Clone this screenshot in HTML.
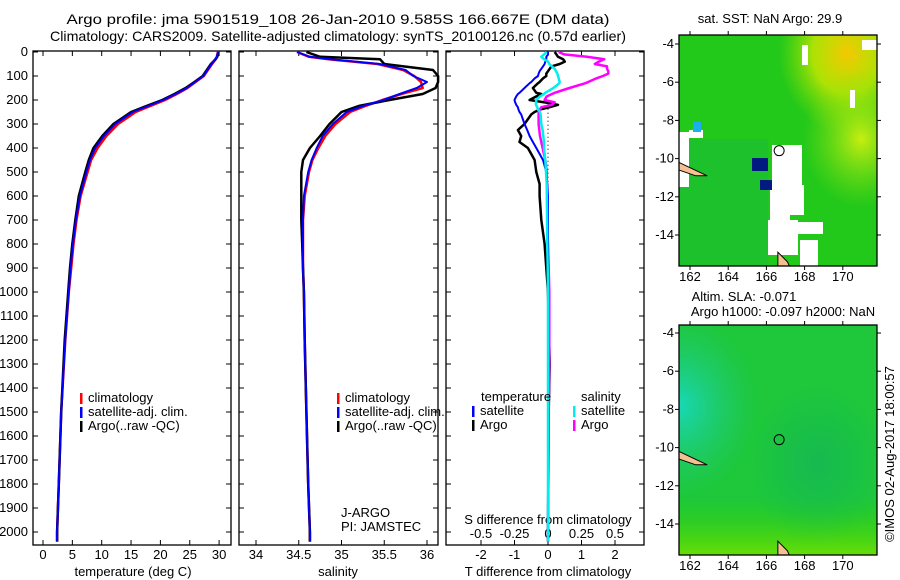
<!DOCTYPE html>
<html><head><meta charset="utf-8"><style>
html,body{margin:0;padding:0;background:#fff}
svg{display:block}
text{font-family:"Liberation Sans",sans-serif;font-size:13px;fill:#000}
</style></head><body>
<svg id="c" width="900" height="580" viewBox="0 0 900 580" xmlns="http://www.w3.org/2000/svg">
<defs>
<radialGradient id="g1" cx="0.85" cy="0.08" r="0.35"><stop offset="0" stop-color="#f4c800"/><stop offset="0.5" stop-color="#cfe800" stop-opacity="0.8"/><stop offset="1" stop-color="#8de000" stop-opacity="0"/></radialGradient>
<radialGradient id="g2" cx="0.92" cy="0.45" r="0.3"><stop offset="0" stop-color="#c8ee10"/><stop offset="1" stop-color="#80e010" stop-opacity="0"/></radialGradient>
<radialGradient id="g3" cx="0.0" cy="0.35" r="0.4"><stop offset="0" stop-color="#18d8b8"/><stop offset="1" stop-color="#20c880" stop-opacity="0"/></radialGradient>
<linearGradient id="g4" x1="0" y1="0" x2="0" y2="1"><stop offset="0.75" stop-color="#30d000" stop-opacity="0"/><stop offset="1" stop-color="#70e000" stop-opacity="0.9"/></linearGradient>
<radialGradient id="g5" cx="0.7" cy="0.6" r="0.35"><stop offset="0" stop-color="#10b060" stop-opacity="0.6"/><stop offset="1" stop-color="#10b060" stop-opacity="0"/></radialGradient>
</defs>
<g id="root"></g>
</svg>
<script>
// ---- data ----
const depths = [0,20,30,50,75,100,125,150,175,200,225,250,300,350,400,450,500,600,700,800,900,1000,1200,1500,1800,2000,2040];
const tempArgo = [29.9,29.7,29.4,28.6,27.9,27.2,25.8,24.3,22.4,20.3,17.6,15.0,12.0,10.1,8.6,7.8,7.2,6.1,5.5,5.0,4.6,4.3,3.7,3.1,2.7,2.4,2.4];
const tempClim = [29.8,29.6,29.4,28.8,28.1,27.4,26.0,24.6,22.8,20.8,18.3,15.8,12.8,10.8,9.3,8.2,7.6,6.4,5.7,5.2,4.8,4.4,3.8,3.1,2.7,2.4,2.4];
const tempSat  = [29.8,29.6,29.3,28.7,28.0,27.3,25.9,24.5,22.6,20.5,17.9,15.3,12.3,10.4,8.9,8.0,7.4,6.3,5.6,5.1,4.7,4.4,3.8,3.1,2.7,2.4,2.4];
const salArgo = [34.59,34.75,35.45,35.5,36.07,36.13,36.13,36.10,35.95,35.56,35.20,35.00,34.86,34.75,34.63,34.55,34.53,34.53,34.53,34.54,34.55,34.56,34.57,34.59,34.61,34.63,34.63];
const salClim = [34.48,34.62,34.85,35.42,35.72,35.85,35.93,35.95,35.70,35.48,35.28,35.10,34.93,34.81,34.73,34.66,34.62,34.57,34.55,34.55,34.55,34.56,34.57,34.59,34.61,34.63,34.63];
const salSat  = [34.48,34.63,34.87,35.45,35.75,35.84,36.00,35.88,35.68,35.49,35.25,35.06,34.90,34.78,34.71,34.65,34.61,34.56,34.55,34.55,34.55,34.56,34.57,34.59,34.61,34.63,34.63];
const diffDepths = [0,10,20,30,40,50,60,70,80,90,100,110,125,130,150,170,175,185,200,210,220,230,240,250,260,300,325,350,375,400,450,500,550,600,700,800,900,1000,1300,1500,2000,2040];
const tDiffArgo = [0.2,0.25,0.3,0.45,0.5,0.35,0.1,0.05,0.0,-0.05,-0.05,-0.15,-0.25,-0.3,-0.45,-0.35,-0.2,-0.35,-0.55,-0.1,0.3,0.05,-0.25,-0.4,-0.5,-0.7,-0.9,-0.8,-0.85,-0.6,-0.4,-0.35,-0.25,-0.25,-0.2,-0.1,-0.05,0.0,0.05,0.02,0.0,0.0];
const tDiffSat  = [0.0,0.0,-0.05,-0.05,-0.08,-0.1,-0.15,-0.2,-0.25,-0.28,-0.3,-0.4,-0.5,-0.55,-0.7,-0.85,-0.9,-0.95,-1.0,-0.98,-0.95,-0.9,-0.88,-0.85,-0.8,-0.7,-0.62,-0.55,-0.45,-0.35,-0.15,-0.05,-0.02,0.0,0.0,0.0,0.0,0.0,0.0,0.0,0.0,0.0];
const sDiffArgo = [0.08,0.12,0.29,0.42,0.38,0.35,0.44,0.44,0.45,0.45,0.41,0.36,0.30,0.28,0.16,0.05,0.03,-0.01,-0.025,0.05,0.03,-0.05,-0.06,-0.07,-0.07,-0.07,-0.065,-0.06,-0.05,-0.04,-0.02,-0.01,-0.008,-0.007,-0.005,0.0,0.005,0.01,0.01,0.005,0.0,0.0];
const sDiffSat  = [-0.01,-0.03,-0.05,-0.03,0.0,0.01,0.03,0.05,0.06,0.07,0.075,0.08,0.087,0.085,0.04,-0.02,-0.03,-0.06,-0.087,-0.09,-0.09,-0.08,-0.075,-0.06,-0.055,-0.05,-0.04,-0.035,-0.03,-0.03,-0.02,-0.015,-0.01,-0.008,-0.007,-0.005,-0.002,0.0,0.0,0.0,0.0,0.0];
const depthTicks = [0,100,200,300,400,500,600,700,800,900,1000,1100,1200,1300,1400,1500,1600,1700,1800,1900,2000];
const tempTicks = [0,5,10,15,20,25,30];
const salTicks = [34,34.5,35,35.5,36];
const tDiffTicks = [-2,-1,0,1,2];
const sDiffTicks = [-0.5,-0.25,0,0.25,0.5];
const sDiffTickLabels = ["-0.5","-0.25","0","0.25","0.5"];
const lonTicks = [162,164,166,168,170];
const latTicks = [-4,-6,-8,-10,-12,-14];

// ---- helpers ----
const NS="http://www.w3.org/2000/svg";
const root=document.getElementById('root');
function mk(tag,attrs,parent){const e=document.createElementNS(NS,tag);for(const k in attrs)e.setAttribute(k,attrs[k]);(parent||root).appendChild(e);return e;}
function txt(x,y,s,anchor,parent,size){const t=mk('text',{x:x,y:y,'text-anchor':anchor||'middle'},parent);if(size)t.style.fontSize=size+'px';t.textContent=s;return t;}
const TOP=52, BOT=545;
const yD = d => TOP + d*0.24;
const xT = v => 43 + v*5.87;
const xS = v => 256 + (v-34)*85.5;
const xTd = v => 548 + v*33.5;
const xSd = v => 548 + v*134;

function panel(name,x0,x1){
  const g=mk('g',{});  
  mk('rect',{x:x0,y:TOP-1,width:x1-x0,height:BOT-TOP+1,fill:'#fff',stroke:'#000','stroke-width':1.3},g);
  depthTicks.forEach(d=>{mk('line',{x1:x0,x2:x0+5,y1:yD(d),y2:yD(d),stroke:'#000'},g);mk('line',{x1:x1-5,x2:x1,y1:yD(d),y2:yD(d),stroke:'#000'},g);});
  return g;
}
function xticks(g,ticks,fx,labels,yl){
  ticks.forEach((v,i)=>{const x=fx(v);mk('line',{x1:x,x2:x,y1:BOT,y2:BOT-5,stroke:'#000'},g);mk('line',{x1:x,x2:x,y1:TOP-1,y2:TOP+4,stroke:'#000'},g);
    const t=txt(x,yl,labels?labels[i]:String(v),'middle',g);});
}
function line(g,xs,ys,fx,color,w,name){
  const p=xs.map((v,i)=>fx(v).toFixed(1)+','+yD(ys[i]).toFixed(1)).join(' ');
  const e=mk('polyline',{points:p,fill:'none',stroke:color,'stroke-width':w,'stroke-linejoin':'round'},g);
  
  
}
function legend(g,x,y,items){
  items.forEach((it,i)=>{mk('rect',{x:x,y:y+i*14-9,width:2.5,height:11,fill:it[0]},g);const t=txt(x+8,y+i*14,it[1],'start',g);});
}

// titles
let t=txt(338,24,'Argo profile: jma 5901519_108 26-Jan-2010 9.585S 166.667E (DM data)');t.setAttribute('textLength','543');t.setAttribute('lengthAdjust','spacingAndGlyphs');t.style.fontSize='14px';
t=txt(338,41,'Climatology: CARS2009. Satellite-adjusted climatology: synTS_20100126.nc (0.57d earlier)');t.setAttribute('textLength','576');t.setAttribute('lengthAdjust','spacingAndGlyphs');t.style.fontSize='14px';

// panel 1 temperature
const p1=panel('temperature-panel',33,231);
depthTicks.forEach(d=>{const t=txt(28,yD(d)+4,String(d),'end',p1);});
xticks(p1,tempTicks,xT,null,559);
t=txt(133,576,'temperature (deg C)','middle',p1);
line(p1,tempClim,depths,xT,'#f00',2.5,'temperature-climatology-line');
line(p1,tempArgo,depths,xT,'#000',2.5,'temperature-argo-line');
line(p1,tempSat,depths,xT,'#00f',2,'temperature-satellite-line');
legend(p1,80,402,[['#f00','climatology'],['#00f','satellite-adj. clim.'],['#000','Argo(..raw -QC)']]);

// panel 2 salinity
const p2=panel('salinity-panel',239,438);
xticks(p2,salTicks,xS,['34','34.5','35','35.5','36'],559);
t=txt(338,576,'salinity','middle',p2);
line(p2,salClim,depths,xS,'#f00',2.5,'salinity-climatology-line');
line(p2,salArgo,depths,xS,'#000',2.5,'salinity-argo-line');
line(p2,salSat,depths,xS,'#00f',2,'salinity-satellite-line');
legend(p2,337,402,[['#f00','climatology'],['#00f','satellite-adj. clim.'],['#000','Argo(..raw -QC)']]);
txt(341,517,'J-ARGO','start',p2);
txt(341,531,'PI: JAMSTEC','start',p2);

// panel 3 differences
const p3=panel('difference-panel',446,644);
xticks(p3,tDiffTicks,xTd,null,559);
sDiffTicks.forEach((v,i)=>{const t=txt(xSd(v),538,sDiffTickLabels[i],'middle',p3);});
t=txt(548,524,'S difference from climatology','middle',p3);
t=txt(548,576,'T difference from climatology','middle',p3);
mk('line',{x1:548,x2:548,y1:yD(220),y2:BOT,stroke:'#000','stroke-dasharray':'1,3'},p3);
line(p3,tDiffArgo,diffDepths,xTd,'#000',2.5,'t-diff-argo-line');
line(p3,sDiffArgo,diffDepths,xSd,'#f0f',2.5,'s-diff-argo-line');
line(p3,tDiffSat,diffDepths,xTd,'#00f',2,'t-diff-satellite-line');
line(p3,sDiffSat,diffDepths,xSd,'#0ee',2.5,'s-diff-satellite-line');
txt(481,401,'temperature','start',p3);
legend(p3,472,415,[['#00f','satellite'],['#000','Argo']]);
txt(581,401,'salinity','start',p3);
legend(p3,573,415,[['#0ee','satellite'],['#f0f','Argo']]);

// maps
function map(name,y0,y1,tickY0,kind){
  const g=mk('g',{});
  const x0=679,x1=877,w=x1-x0,h=y1-y0;
  const xL=v=>690+(v-162)*19.1, yL=v=>tickY0+(-4-v)*19.1;
  if(kind===1){
    mk('rect',{x:x0,y:y0,width:w,height:h,fill:'#22c81a'},g);
    mk('rect',{x:x0,y:y0,width:w,height:h,fill:'url(#g1)'},g);
    mk('rect',{x:x0,y:y0,width:w,height:h,fill:'url(#g2)'},g);
    mk('rect',{x:x0,y:y0+h*0.45,width:w*0.45,height:h*0.55,fill:'#12b450',opacity:0.35},g);
    [[679,132,10,55],[689,130,14,8],[772,145,30,45],[770,180,20,40],[790,185,14,30],[768,220,30,35],[790,222,33,12],[800,240,18,30],[802,45,6,20],[850,90,5,18],[862,40,15,10]].forEach(r=>mk('rect',{x:r[0],y:r[1],width:r[2],height:r[3],fill:'#fff'},g));
    mk('rect',{x:752,y:158,width:16,height:13,fill:'#001a80'},g);
    mk('rect',{x:760,y:180,width:12,height:10,fill:'#001a80'},g);
    mk('rect',{x:693,y:122,width:8,height:10,fill:'#1ab0f0'},g);
  } else {
    mk('rect',{x:x0,y:y0,width:w,height:h,fill:'#1ec83a'},g);
    mk('rect',{x:x0,y:y0,width:w,height:h,fill:'url(#g3)'},g);
    mk('rect',{x:x0,y:y0,width:w,height:h,fill:'url(#g4)'},g);
    mk('rect',{x:x0,y:y0,width:w,height:h,fill:'url(#g5)'},g);
  }
  // islands
  mk('path',{d:`M${x0} ${yL(-10.2)} L${xL(162.9)} ${yL(-10.9)} L${xL(162.3)} ${yL(-10.9)} L${x0} ${yL(-10.6)} Z`,fill:'#f5c090',stroke:'#000'},g);
  mk('path',{d:`M${xL(166.6)} ${y1} L${xL(166.6)} ${yL(-14.9)} L${xL(167.1)} ${yL(-15.4)} L${xL(167.2)} ${y1} Z`,fill:'#f5c090',stroke:'#000'},g);
  mk('circle',{cx:xL(166.667),cy:yL(-9.585),r:5,fill:'none',stroke:'#000'},g);
  mk('rect',{x:x0,y:y0,width:w,height:h,fill:'none',stroke:'#000','stroke-width':1.3},g);
  lonTicks.forEach(v=>{const x=xL(v);mk('line',{x1:x,x2:x,y1:y1,y2:y1+4,stroke:'#000'},g);mk('line',{x1:x,x2:x,y1:y0,y2:y0-4,stroke:'#000'},g);const t=txt(x,y1+15,String(v),'middle',g);});
  latTicks.forEach(v=>{const y=yL(v);mk('line',{x1:x0-4,x2:x0,y1:y,y2:y,stroke:'#000'},g);mk('line',{x1:x1,x2:x1+4,y1:y,y2:y,stroke:'#000'},g);const t=txt(x0-5,y+4,String(v),'end',g);});
}
map('sst-map',35,266,44,1);
map('sla-map',325,555,333,2);
t=txt(770,23,'sat. SST: NaN Argo: 29.9');
t=txt(744,301,'Altim. SLA: -0.071');
t=txt(783,316,'Argo h1000: -0.097 h2000: NaN');
t=txt(0,0,'©IMOS 02-Aug-2017 18:00:57','middle');t.setAttribute('transform','translate(894,454) rotate(-90)');
</script>
</body></html>
